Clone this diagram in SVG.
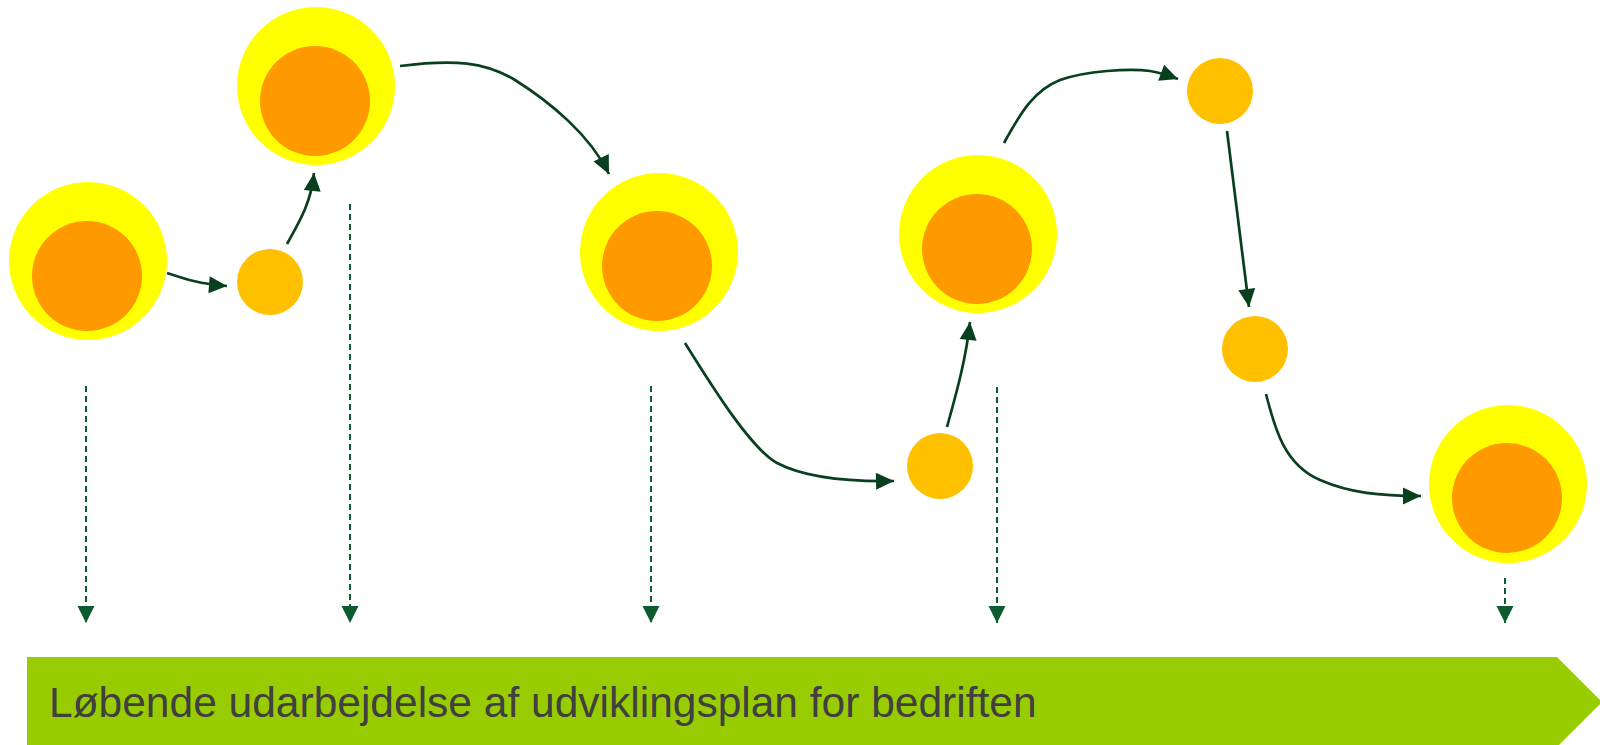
<svg xmlns="http://www.w3.org/2000/svg" width="1600" height="745" viewBox="0 0 1600 745">
<defs>
<style>
.outer{fill:#FFFF00}
.inner{fill:#FF9900}
.small{fill:#FFC000}
.flow{fill:none;stroke:#08401F;stroke-width:2.7}
.drop{fill:none;stroke:#0B5A30;stroke-width:2;stroke-dasharray:6,4}
.label{font-family:"Liberation Sans",Arial,sans-serif;font-size:42.5px;fill:#404040}
</style>
<marker id="ah" markerUnits="userSpaceOnUse" markerWidth="19" markerHeight="18" refX="18" refY="8.5" orient="auto" overflow="visible">
<path d="M0,0 L18,8.5 L0,17 z" fill="#08401F"/>
</marker>
<marker id="dh" markerUnits="userSpaceOnUse" markerWidth="18" markerHeight="18" refX="17" refY="8.5" orient="auto" overflow="visible">
<path d="M0,0 L17,8.5 L0,17 z" fill="#0B5A30"/>
</marker>
</defs>
<rect width="1600" height="745" fill="#FFFFFF"/>
<g id="band">
<polygon points="27,657 1557,657 1602,702 1557,747 27,747" fill="#99CC00"/>
<text class="label" x="49" y="717">Løbende udarbejdelse af udviklingsplan for bedriften</text>
</g>
<g id="node-big1"><circle class="outer" cx="88" cy="261" r="79"/><circle class="inner" cx="87" cy="276" r="55"/></g>
<g id="node-small1"><circle class="small" cx="270" cy="282" r="33"/></g>
<g id="node-big2"><circle class="outer" cx="316" cy="86" r="79"/><circle class="inner" cx="315" cy="101" r="55"/></g>
<g id="node-big3"><circle class="outer" cx="659" cy="252" r="79"/><circle class="inner" cx="657" cy="266" r="55"/></g>
<g id="node-small2"><circle class="small" cx="940" cy="466" r="33"/></g>
<g id="node-big4"><circle class="outer" cx="978" cy="234" r="79"/><circle class="inner" cx="977" cy="249" r="55"/></g>
<g id="node-small3"><circle class="small" cx="1220" cy="91" r="33"/></g>
<g id="node-small4"><circle class="small" cx="1255" cy="349" r="33"/></g>
<g id="node-big5"><circle class="outer" cx="1508" cy="484" r="79"/><circle class="inner" cx="1507" cy="498" r="55"/></g>
<g id="connectors">
<path class="flow" marker-end="url(#ah)" d="M167,273 C185,279 200,284 227,286"/>
<path class="flow" marker-end="url(#ah)" d="M287,244 C298,224 311,204 314,173"/>
<path class="flow" marker-end="url(#ah)" d="M400,66 C455,59 485,62 515,80 C550,102 590,135 609,174"/>
<path class="flow" marker-end="url(#ah)" d="M685,343 C710,383 750,448 777,463 C800,475 840,482 894,481"/>
<path class="flow" marker-end="url(#ah)" d="M947,427 C955,398 966,360 970,322"/>
<path class="flow" marker-end="url(#ah)" d="M1004,143 C1022,110 1035,90 1060,80 C1085,71 1130,68 1150,71 C1162,73 1170,76 1178,79"/>
<path class="flow" marker-end="url(#ah)" d="M1227,131 L1249,307"/>
<path class="flow" marker-end="url(#ah)" d="M1266,394 C1275,430 1285,465 1320,480 C1350,493 1380,496 1421,496"/>
<path class="drop" marker-end="url(#dh)" d="M86,386 L86,623"/>
<path class="drop" marker-end="url(#dh)" d="M350,204 L350,623"/>
<path class="drop" marker-end="url(#dh)" d="M651,386 L651,623"/>
<path class="drop" marker-end="url(#dh)" d="M997,387 L997,623"/>
<path class="drop" marker-end="url(#dh)" d="M1505,578 L1505,623"/>
</g>
</svg>
